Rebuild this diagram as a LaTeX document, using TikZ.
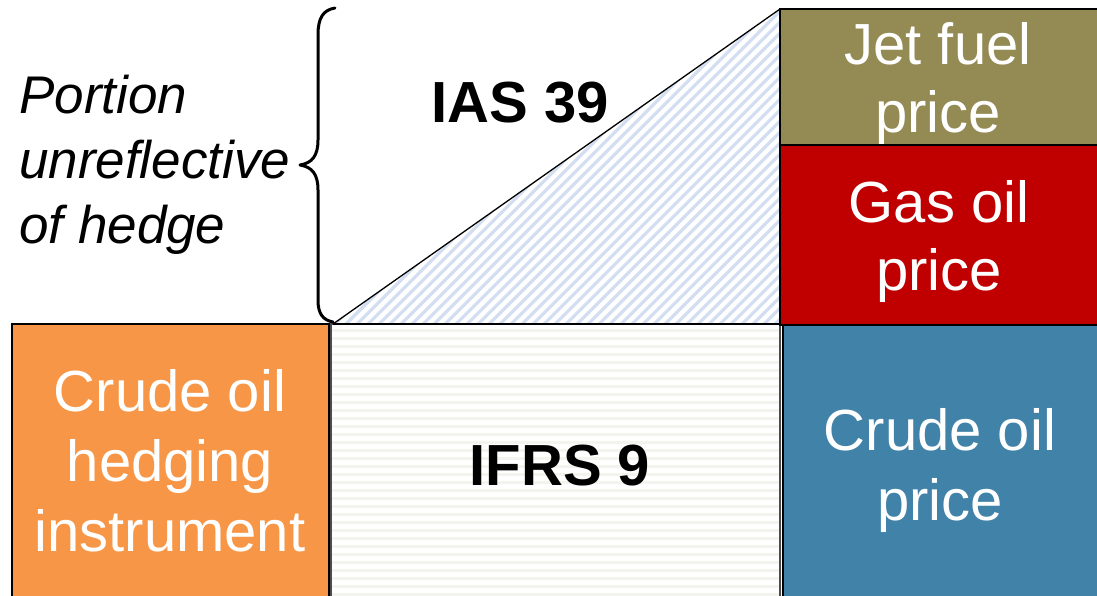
\documentclass[tikz,border=0pt]{standalone}
\usepackage{fontspec}
\setmainfont{Liberation Sans}
\definecolor{horange}{HTML}{F79646}
\definecolor{holive}{HTML}{948A54}
\definecolor{hred}{HTML}{C00000}
\definecolor{hblue}{HTML}{4183A8}
\definecolor{hatchblue}{HTML}{D3DEF0}
\definecolor{hlinegray}{HTML}{F4F4EE}
\begin{document}
\begin{tikzpicture}[x=1pt,y=-1pt,
  box/.style={draw=black,line width=1.5pt,anchor=north west,inner sep=0pt,outer sep=0pt},
  wtext/.style={text=white,align=center,inner sep=0pt,font=\fontsize{58}{70}\selectfont},
  btext/.style={text=black,inner sep=0pt,anchor=base,font=\fontsize{58}{70}\selectfont\bfseries},
  itext/.style={text=black,inner sep=0pt,align=left,anchor=west,font=\fontsize{53}{65}\selectfont\itshape},
  hatch/.style={draw=hatchblue,line width=3.2pt},
  stripe/.style={draw=hlinegray,line width=3pt},
  bracestyle/.style={draw=black,line width=3pt,line cap=round,line join=round}]
\useasboundingbox (0,0) rectangle (1097,595);
\clip (0,0) rectangle (1097,595);
% coordinates of the triangle
\coordinate (tl) at (333,324);
\coordinate (apex) at (780,9);
\coordinate (tr) at (780,324);
% IFRS 9 stripes
\begin{scope}
  \clip (331,324) rectangle (780,600);
  \foreach \yy in {330,338,...,600} \draw[stripe] (331,\yy) -- (780,\yy);
\end{scope}
\node[box,draw=black!70,minimum width=449pt,minimum height=300pt] (ifrs) at (331,324) {};
\node[btext] (ifrstxt) at (560,485) {IFRS 9};
% IAS 39 hatched triangle
\begin{scope}
  \clip (tl) -- (apex) -- (tr) -- cycle;
  \foreach \cc in {340,351,...,1120} \draw[hatch] (\cc-400,400) -- (\cc+10,-10);
\end{scope}
\draw[line width=1.3pt] (tl) -- (apex);
\draw[line width=1.5pt] (tl) -- (tr);
\node[btext] (iastxt) at (520,122) {IAS 39};
% orange hedging instrument
\node[box,fill=horange,minimum width=317pt,minimum height=300pt] (hedge) at (12,324) {};
\node[wtext] (hedgetxt) at (170,461) {Crude oil\\hedging\\instrument};
% right column
\node[box,fill=holive,minimum width=330pt,minimum height=136pt] (jet) at (780,9) {};
\node[wtext,font=\fontsize{58}{68}\selectfont] (jettxt) at (938,83) {Jet fuel\\price};
\node[box,fill=hred,minimum width=330pt,minimum height=180pt] (gas) at (780,145) {};
\node[wtext,font=\fontsize{58}{68}\selectfont] (gastxt) at (939,241) {Gas oil\\price};
\node[box,fill=hblue,minimum width=330pt,minimum height=300pt] (crude) at (783,325) {};
\node[wtext] (crudetxt) at (940,470) {Crude oil\\price};
% brace
\draw[bracestyle] (335,8) .. controls (323,10) and (318,18) .. (318,35) -- (318,140)
  .. controls (318,156) and (312,163) .. (300,165)
  .. controls (312,167) and (318,174) .. (318,190) -- (318,300)
  .. controls (318,314) and (323,320) .. (333,322);
\node[itext] (portion) at (19,165) {Portion\\unreflective\\of hedge};
\end{tikzpicture}
\end{document}
